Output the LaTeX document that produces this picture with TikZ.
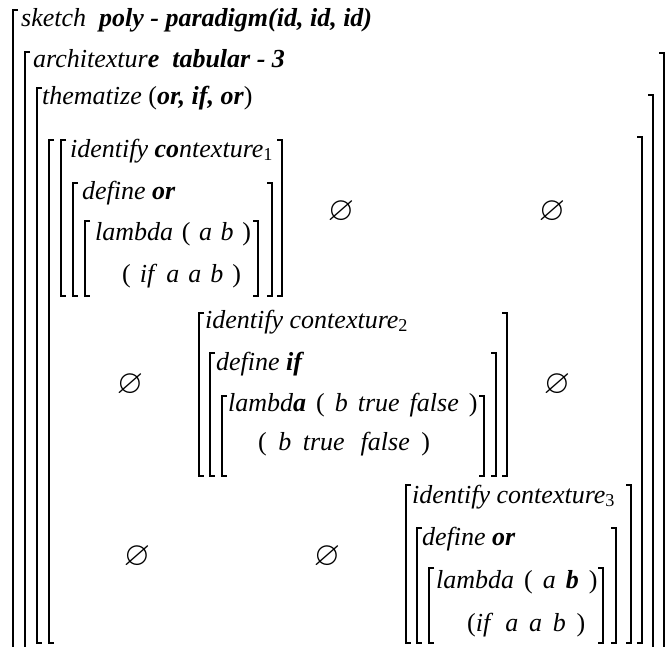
\documentclass[tikz,border=0pt]{standalone}
\usepackage{fontspec}
\usepackage{amssymb}
\setmainfont{Liberation Serif}
\tikzset{
  txt/.style={anchor=base west, inner sep=0pt, font=\fontsize{26}{30}\selectfont\itshape},
  brk/.style={line width=1.4pt, line cap=butt, line join=miter},
  emp/.style={inner sep=0pt, scale=1.3, font=\fontsize{26}{30}\selectfont},
}
\newcommand{\LBr}[3]{\draw[brk] (#1+5,#2) -- (#1,#2) -- (#1,#3) -- (#1+5,#3);}
\newcommand{\RBr}[3]{\draw[brk] (#1-5,#2) -- (#1,#2) -- (#1,#3) -- (#1-5,#3);}
\newcommand{\LOpen}[3]{\draw[brk] (#1+5,#2) -- (#1,#2) -- (#1,#3);}
\newcommand{\ROpen}[3]{\draw[brk] (#1-5,#2) -- (#1,#2) -- (#1,#3);}
\begin{document}
\begin{tikzpicture}[x=1pt,y=-1pt]
\useasboundingbox (0,0) rectangle (669,646);
% header lines
\node[txt] (sk) at (21,26) {sketch\ \ \textbf{poly - paradigm(id, id, id)}};
\node[txt] (ar) at (33,67) {architextur\textbf{e}\ \ \textbf{tabular - 3}};
\node[txt] (th) at (42,104) {thematize \textup{(}\textbf{or, if, or}\textup{)}};
% outer brackets
\LOpen{13}{10}{650}
\LOpen{25}{52}{650}
\ROpen{664}{53}{650}
\LBr{37}{88}{643}
\ROpen{653}{95}{650}
\LBr{49}{140}{643}
\RBr{642}{137}{643}
% row 1
\node[txt] (id1) at (70,157) {identify \textbf{co}ntexture\textsubscript{\upshape 1}};
\node[txt] (df1) at (82,199) {define \textbf{or}};
\node[txt] (lm1) at (95,240) {\spaceskip=8.6pt lambda \textup{(} a b \textup{)}};
\node[txt] (bd1) at (122,282) {\spaceskip=9pt \textup{(} if\hspace{12pt}a a b \textup{)}};
\LBr{61}{140}{296} \RBr{282}{140}{296}
\LBr{73}{183}{296} \RBr{272}{183}{296}
\LBr{85}{221}{296} \RBr{258}{221}{296}
\node[emp] (e12) at (341,212) {$\varnothing$};
\node[emp] (e13) at (552,212) {$\varnothing$};
% row 2
\node[txt] (id2) at (205,328) {identify contexture\textsubscript{\upshape 2}};
\node[txt] (df2) at (216,370) {define \textbf{if}};
\node[txt] (lm2) at (228,411) {\spaceskip=10pt lambd\textbf{a} \textup{(} b true false \textup{)}};
\node[txt] (bd2) at (258,450) {\spaceskip=11.5pt \textup{(} b true\hspace{16pt}false \textup{)}};
\LBr{199}{313}{476} \RBr{507}{313}{476}
\LBr{210}{353}{476} \RBr{496}{353}{476}
\LBr{222}{396}{476} \RBr{484}{396}{476}
\node[emp] (e21) at (130,385) {$\varnothing$};
\node[emp] (e23) at (557,385) {$\varnothing$};
% row 3
\node[txt] (id3) at (412,503) {identify contexture\textsubscript{\upshape 3}};
\node[txt] (df3) at (422,545) {define \textbf{or}};
\node[txt] (lm3) at (436,588) {\spaceskip=10pt lambda \textup{(} a \textbf{b} \textup{)}};
\node[txt] (bd3) at (467,631) {\spaceskip=10.8pt \textup{(}if\hspace{15pt}a a b \textup{)}};
\LBr{406}{485}{643} \RBr{631}{485}{643}
\LBr{417}{528}{643} \RBr{616}{528}{643}
\LBr{429}{568}{643} \RBr{603}{568}{643}
\node[emp] (e31) at (137,557) {$\varnothing$};
\node[emp] (e32) at (327,557) {$\varnothing$};
\end{tikzpicture}
\end{document}
